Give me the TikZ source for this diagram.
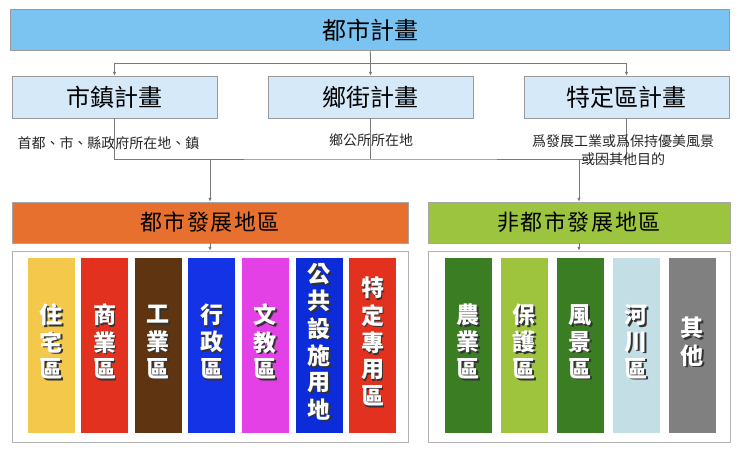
\documentclass[tikz,border=0pt]{standalone}
\usepackage{fontspec}
\setmainfont{Noto Sans CJK TC}
\usetikzlibrary{arrows.meta}

\definecolor{planblue}{HTML}{7BC4F2}
\definecolor{subblue}{HTML}{D5E9F9}
\definecolor{urbanorange}{HTML}{E8702E}
\definecolor{ruralgreen}{HTML}{9CC43E}
\definecolor{zyellow}{HTML}{F4C84A}
\definecolor{zred}{HTML}{E2321F}
\definecolor{zbrown}{HTML}{5E3411}
\definecolor{zblue}{HTML}{1432E6}
\definecolor{zmagenta}{HTML}{E341E6}
\definecolor{zdeepblue}{HTML}{0C2BD9}
\definecolor{zdarkgreen}{HTML}{3B7D23}
\definecolor{zlightgreen}{HTML}{9DC43C}
\definecolor{zpale}{HTML}{C3DFE5}
\definecolor{zgray}{HTML}{808080}
\definecolor{linegray}{HTML}{7A7A7A}

\newcommand{\colstack}[1]{\begin{tabular}{@{}c@{}}#1\end{tabular}}
\newcommand{\shadowed}[1]{\makebox[0pt][l]{\raisebox{-1.6pt}{\hspace{1.6pt}\textcolor{black!80}{\colstack{#1}}}}\colstack{#1}}

\tikzset{
    plan/.style={draw=gray!80, fill=planblue, minimum width=719pt, minimum height=41pt, inner sep=0pt, font=\fontsize{24}{28}\selectfont},
    subplan/.style={draw=gray!80, fill=subblue, minimum width=205pt, minimum height=42pt, inner sep=0pt, font=\fontsize{24}{28}\selectfont},
    area/.style={draw=gray!70, minimum height=41pt, inner sep=0pt, font=\fontsize{22}{26}\selectfont\addfontfeature{LetterSpace=7}},
    holder/.style={draw=gray!60, fill=white, minimum height=191pt, inner sep=0pt},
    zone/.style={minimum width=47pt, minimum height=175pt, inner sep=0pt, text=white, font=\fontsize{23}{26}\selectfont\bfseries},
    note/.style={font=\fontsize{14}{18}\selectfont, text=black!85, inner sep=0pt},
    link/.style={draw=linegray, line width=0.8pt},
    arr/.style={link, -{Latex[length=4pt,width=3.5pt]}},
}

\begin{document}
\begin{tikzpicture}[x=1pt,y=-1pt]

    \useasboundingbox (0,0) rectangle (740,449);

    %% plans
    \node[plan] (plan) at (370,30) {都市計畫};
    \node[subplan] (town) at (114.5,97) {市鎮計畫};
    \node[subplan] (village) at (370.5,97) {鄉街計畫};
    \node[subplan] (special) at (626.5,97) {特定區計畫};

    \node[note] (townnote) at (108.5,143) {首都、市、縣政府所在地、鎮};
    \node[note] (villagenote) at (371,140) {鄉公所所在地};

    %% areas
    \node[area, fill=urbanorange, minimum width=396pt] (urban) at (210,222.5) {都市發展地區};
    \node[area, fill=ruralgreen, minimum width=302pt] (rural) at (579,222.5) {非都市發展地區};
    \node[holder, minimum width=396pt] (urbanbox) at (210,346.5) {};
    \node[holder, minimum width=302pt] (ruralbox) at (579,346.5) {};

    %% connectors
    \coordinate (split) at (370.5,63);
    \coordinate (join) at (370.5,159);
    \draw[link] (plan) -- (split);
    \draw[arr] (split) -| (town);
    \draw[arr] (split) -- (village);
    \draw[arr] (split) -| (special);
    \draw[link] (town) |- (join) -| (special);
    \draw[link] (village) -- (join);
    \draw[arr] (join -| urban) -- (urban);
    \draw[arr] (join -| rural) -- (rural);
    \draw[arr] (urban) -- (urbanbox);
    \draw[arr] (rural) -- (ruralbox);

    \node[note, align=center] (specialnote) at (623,150) {爲發展工業或爲保持優美風景\\或因其他目的};

    %% zones
    \foreach \i/\c/\t in {1/zyellow/{住\\宅\\區}, 2/zred/{商\\業\\區}, 3/zbrown/{工\\業\\區},
        4/zblue/{行\\政\\區}, 5/zmagenta/{文\\教\\區}, 6/zdeepblue/{公\\共\\設\\施\\用\\地}, 7/zred/{特\\定\\專\\用\\區}}{
    \node[zone, fill=\c] (u\i) at ({51+53.6*(\i-1)},345.5) {\shadowed{\t}};
    }
    \foreach \i/\c/\t in {1/zdarkgreen/{農\\業\\區}, 2/zlightgreen/{保\\護\\區}, 3/zdarkgreen/{風\\景\\區},
        4/zpale/{河\\川\\區}, 5/zgray/{其\\他}}{
    \node[zone, fill=\c] (n\i) at ({468+56*(\i-1)},345.5) {\shadowed{\t}};
    }
\end{tikzpicture}
\end{document}
